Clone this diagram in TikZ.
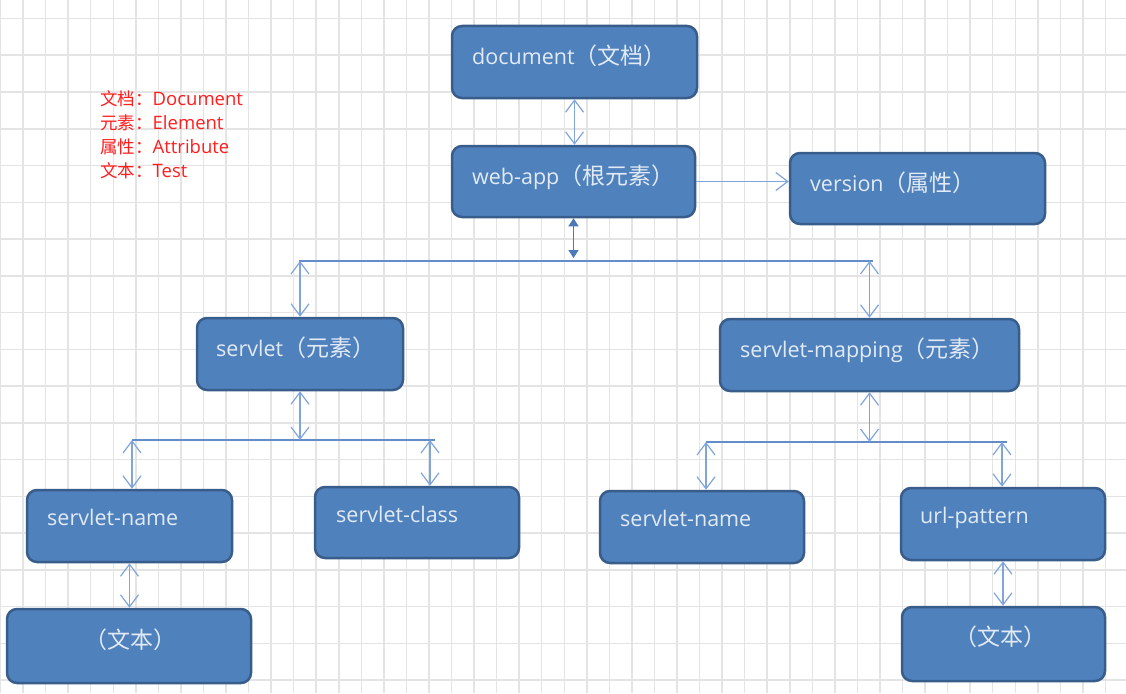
\documentclass[tikz,border=0pt]{standalone}
\usepackage{fontspec}
\setmainfont{Open Sans}
\newfontfamily\cjkfam{Noto Sans CJK SC}
\newcommand\cjkb{\cjkfam\fontsize{23}{24}\selectfont}
\newcommand\cjkl{\cjkfam\fontsize{17.5}{20}\selectfont}
\usetikzlibrary{arrows.meta}
\definecolor{gridc}{RGB}{228,228,228}
\definecolor{boxfill}{RGB}{79,129,189}
\definecolor{boxline}{RGB}{56,93,138}
\definecolor{boxtxt}{RGB}{226,234,245}
\definecolor{arrc}{RGB}{128,165,218}
\definecolor{busc}{RGB}{100,140,200}
\definecolor{filc}{RGB}{74,122,186}
\definecolor{legc}{RGB}{255,30,30}
\tikzset{
  box/.style={draw=boxline, fill=boxfill, line width=2.5pt, rounded corners=10pt, inner sep=0pt},
  btxt/.style={text=boxtxt, font=\fontsize{21.5}{24}\selectfont, inner sep=0pt, anchor=base west},
  ctxt/.style={text=boxtxt, font=\fontsize{21.5}{24}\selectfont, inner sep=0pt, anchor=center},
  legtxt/.style={text=legc, font=\fontsize{18.5}{20}\selectfont, inner sep=0pt, anchor=base west},
  dbl/.style={draw=arrc, line width=1.2pt, {Straight Barb[length=12pt,width=18pt]}-{Straight Barb[length=12pt,width=18pt]}},
  sgl/.style={draw=arrc, line width=1.2pt, -{Straight Barb[length=12pt,width=18pt]}},
  fil/.style={draw=filc, line width=1.4pt, {Triangle[length=8pt,width=10pt]}-{Triangle[length=8pt,width=10pt]}},
  busline/.style={draw=busc, line width=1.3pt}
}
\begin{document}
\begin{tikzpicture}[x=1pt,y=-1pt]
\useasboundingbox (0,0) rectangle (1126,693);
\fill[white] (0,0) rectangle (1126,693);
% grid
\foreach \i in {0,...,49} \draw[gridc, line width=1.5pt] (0.5+22.55*\i,0) -- (0.5+22.55*\i,693);
\foreach \j in {0,...,18} \draw[gridc, line width=1.5pt] (0,18.5+36.75*\j) -- (1126,18.5+36.75*\j);

% legend
\node[legtxt] (leg1) at (100,105) {{\cjkl 文档：}Document};
\node[legtxt] (leg2) at (100,129) {{\cjkl 元素：}Element};
\node[legtxt] (leg3) at (100,153) {{\cjkl 属性：}Attribute};
\node[legtxt] (leg4) at (100,177) {{\cjkl 文本：}Test};

% boxes
\node[box, minimum width=245pt, minimum height=72pt] (doc) at (574.5,62) {};
\node[box, minimum width=243pt, minimum height=71pt] (webapp) at (573.5,181.5) {};
\node[box, minimum width=255pt, minimum height=71pt] (version) at (917.5,188.5) {};
\node[box, minimum width=206pt, minimum height=72pt] (servlet) at (300,354) {};
\node[box, minimum width=299pt, minimum height=72pt] (mapping) at (869.5,355) {};
\node[box, minimum width=205pt, minimum height=72pt] (snL) at (129.5,526) {};
\node[box, minimum width=204pt, minimum height=71pt] (sc) at (417,522.5) {};
\node[box, minimum width=204pt, minimum height=72pt] (snR) at (702,527) {};
\node[box, minimum width=204pt, minimum height=72pt] (url) at (1003,524) {};
\node[box, minimum width=244pt, minimum height=74pt] (txtL) at (129,646) {};
\node[box, minimum width=203pt, minimum height=74pt] (txtR) at (1003.5,644) {};

% box texts
\node[btxt] (docT) at (472,64) {document{\cjkb（文档）}};
\node[btxt] (webappT) at (472,184) {web-app{\cjkb（根元素）}};
\node[btxt] (versionT) at (810,191) {version{\cjkb（属性）}};
\node[btxt] (servletT) at (216,356) {servlet{\cjkb（元素）}};
\node[btxt] (mappingT) at (740,357) {servlet-mapping{\cjkb（元素）}};
\node[btxt] (snLT) at (47,525) {servlet-name};
\node[btxt] (scT) at (336,522) {servlet-class};
\node[btxt] (snRT) at (620,526) {servlet-name};
\node[btxt] (urlT) at (920,523) {url-pattern};
\node[ctxt] (txtLT) at (130,640) {\cjkb（文本）};
\node[ctxt] (txtRT) at (1000,637) {\cjkb（文本）};

% bus coordinates
\coordinate (busA) at (573,261);
\coordinate (busL) at (299,261);
\coordinate (busR) at (873,261);
\coordinate (b2L) at (132,440);
\coordinate (b2R) at (435,440);
\coordinate (b2c) at (430,440);
\coordinate (b3L) at (706,442);
\coordinate (b3R) at (1007,442);
\coordinate (b3c) at (1002,442);

% connectors
\draw[dbl] (doc.south) -- (doc.south |- webapp.north);
\draw[sgl] (webapp.east) -- (webapp.east -| version.west);
\draw[fil, shorten >=3pt] (webapp.south) -- (webapp.south |- busA);
\draw[busline] (busL) -- (busR);
\draw[dbl] (busL -| servlet.north) -- (servlet.north);
\draw[dbl] (busR -| mapping.north) -- (mapping.north);
\draw[busline] (b2L) -- (b2R);
\draw[dbl] (servlet.south) -- (servlet.south |- b2L);
\draw[dbl] (b2L) -- (b2L |- snL.north);
\draw[dbl] (b2c) -- (b2c |- sc.north);
\draw[busline] (b3L) -- (b3R);
\draw[dbl] (mapping.south) -- (mapping.south |- b3L);
\draw[dbl] (b3L) -- (b3L |- snR.north);
\draw[dbl] (b3c) -- (b3c |- url.north);
\draw[dbl] (snL.south) -- (snL.south |- txtL.north);
\draw[dbl] (url.south) -- (url.south |- txtR.north);
\end{tikzpicture}
\end{document}
